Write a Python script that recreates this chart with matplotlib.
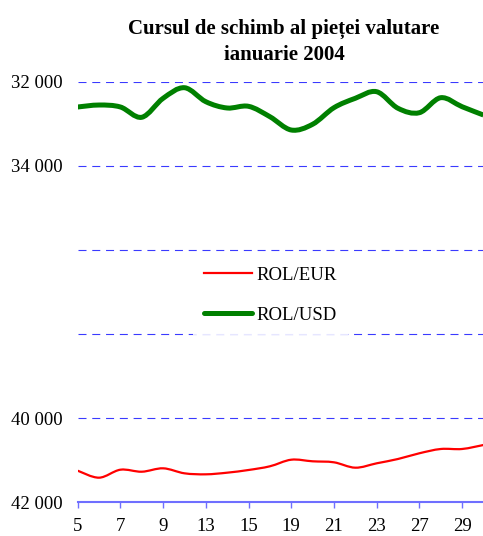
import matplotlib
matplotlib.use("Agg")
import matplotlib.pyplot as plt
import numpy as np
from matplotlib.path import Path
from matplotlib.patches import PathPatch
from matplotlib.lines import Line2D

# Data (trading days, January 2004)
days = [5, 6, 7, 8, 9, 12, 13, 14, 15, 16, 19, 20, 21, 22, 23, 26, 27, 28, 29, 30]
rol_eur = [41255, 41421, 41231, 41279, 41198, 41317, 41341, 41302, 41238, 41150,
           40993, 41031, 41055, 41183, 41079, 40976, 40840, 40738, 40738, 40643]
rol_usd = [32595, 32548, 32595, 32840, 32388, 32136, 32469, 32619, 32579, 32826,
           33143, 33007, 32612, 32388, 32231, 32626, 32731, 32374, 32588, 32786]
yticks = [32000, 34000, 36000, 38000, 40000, 42000]
ytick_labels = ['32 000', '34 000', '', '', '40 000', '42 000']

plt.rcParams['font.family'] = ['Liberation Serif', 'DejaVu Serif']


def smooth_path(xs, ys):
    # Excel-style smoothed line: Catmull-Rom segments as cubic Beziers
    n = len(xs)
    verts = [(xs[0], ys[0])]
    codes = [Path.MOVETO]
    for i in range(n - 1):
        a = max(i - 1, 0)
        b = min(i + 2, n - 1)
        c1 = (xs[i] + (xs[i + 1] - xs[a]) / 6, ys[i] + (ys[i + 1] - ys[a]) / 6)
        c2 = (xs[i + 1] - (xs[b] - xs[i]) / 6, ys[i + 1] - (ys[b] - ys[i]) / 6)
        verts += [c1, c2, (xs[i + 1], ys[i + 1])]
        codes += [Path.CURVE4] * 3
    return Path(verts, codes)


fig = plt.figure(figsize=(4.83, 5.36), dpi=100)
ax = fig.add_axes([77.7 / 483, 34 / 536, 405.7 / 483, 420 / 536])

x = np.arange(len(days))
ax.add_patch(PathPatch(smooth_path(x, rol_eur), fill=False, edgecolor='#FF0000',
                       linewidth=1.6, zorder=3))
ax.add_patch(PathPatch(smooth_path(x, rol_usd), fill=False, edgecolor='#008000',
                       linewidth=3.6, zorder=3, joinstyle='round'))

ax.set_xlim(0, len(days) - 1)
ax.set_ylim(42000, 32000)

ax.set_xticks(x[::2])
ax.set_xticklabels([str(d) for d in days[::2]], fontsize=13.5)
ax.set_yticks(yticks)
ax.set_yticklabels(ytick_labels, fontsize=13.5)
ax.tick_params(axis='y', length=0, pad=11)
ax.tick_params(axis='x', direction='out', length=4.3, width=1.0, color='#6F6FFF', pad=7)

ax.yaxis.grid(True, color='#3A3AFF', linewidth=0.8, linestyle=(0, (7.2, 5.2)))
ax.set_axisbelow(True)
for s in ['left', 'top', 'right']:
    ax.spines[s].set_visible(False)
ax.spines['bottom'].set_color('#6F6FFF')
ax.spines['bottom'].set_linewidth(1.5)

fig.text(284 / 483, 1 - 42 / 536, 'Cursul de schimb al pieței valutare\nianuarie 2004',
         ha='center', va='center', fontsize=15, fontweight='bold', linespacing=1.45)

handles = [Line2D([], [], color='#FF0000', linewidth=1.6),
           Line2D([], [], color='#008000', linewidth=3.6, solid_capstyle='round')]
leg = ax.legend(handles, ['ROL/EUR', 'ROL/USD'], loc='center',
                bbox_to_anchor=(270.5 / 483, 1 - 295 / 536), bbox_transform=fig.transFigure,
                fontsize=13.5, handlelength=2.56, handletextpad=0.25, labelspacing=1.22,
                borderpad=0.6, frameon=True, fancybox=False, edgecolor='none',
                facecolor='white', framealpha=0.88)

fig.savefig('out.png', dpi=100)
